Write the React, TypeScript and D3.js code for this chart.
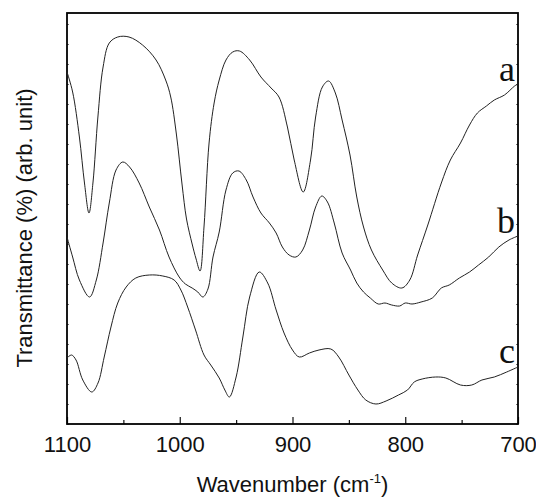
import React, { useRef, useEffect } from "react"
import * as d3 from "d3"

const chart_width = 536
const chart_height = 498
const margin = { top: 13, right: 18, bottom: 74, left: 67 }

// wavenumber (cm-1), transmittance (arb. unit)
const curveA = [
  [1100, 352], [1095, 332], [1089, 287], [1084.5, 241], [1080.5, 211], [1077, 241],
  [1072.6, 307], [1068, 357], [1062.5, 381], [1055, 387], [1045, 387], [1033, 379],
  [1021, 364], [1012.5, 344], [1008, 327], [1003, 290], [998, 240], [994, 205],
  [989, 180], [985.5, 165], [982, 153], [978.5, 197], [974, 281], [969.5, 321],
  [965, 344], [959, 364], [953, 372], [947, 373], [938, 364], [928, 347], [919, 336],
  [912, 327], [904.5, 297], [898.5, 264], [890.5, 232], [884, 264], [879.5, 307],
  [873.5, 337], [868, 343], [862, 331], [856, 304], [849, 269], [843, 227], [837, 197],
  [830, 174], [820, 154], [812, 141], [803, 136], [796, 144], [789, 169], [780, 199],
  [768, 241], [760, 264], [751, 281], [743, 299], [736, 311], [728, 318], [721, 324],
  [712, 329], [703, 338], [700, 340],
]

const curveB = [
  [1100, 187], [1095, 167], [1089, 144], [1080, 127], [1074, 144], [1068, 181],
  [1062.5, 221], [1056.5, 254], [1050.5, 262], [1044.5, 257], [1036, 241], [1027, 217],
  [1018, 194], [1009.5, 167], [1000.5, 147], [995, 140], [989, 136], [984, 132],
  [979.5, 127], [975, 135], [970.5, 167], [965, 192], [959, 234], [953, 251],
  [947.5, 253], [941, 244], [935, 227], [928, 211], [920.5, 201], [914.5, 191],
  [909, 177], [903, 169], [897, 167], [891, 174], [885, 194], [879.5, 217], [874, 228],
  [869, 222], [863, 201], [856, 171], [848.5, 154], [843, 141], [837, 132], [831, 126],
  [824, 120], [818, 121], [812, 119], [805, 118], [800, 121], [794, 120], [786, 122],
  [776, 126], [768, 136], [761, 139], [752, 146], [743, 152], [735, 159], [726, 167],
  [717, 177], [708, 184], [700, 188],
]

const curveC = [
  [1100, 66], [1096, 69], [1092, 64], [1086, 44], [1078, 32], [1072.5, 41], [1067, 67],
  [1061, 97], [1055, 121], [1047.5, 137], [1039, 146], [1027, 149], [1015, 148],
  [1005, 144], [999, 134], [993, 117], [986, 94], [978.5, 69], [972.5, 59], [965, 46],
  [960, 34], [956, 27], [950, 47], [944, 87], [938, 127], [929.5, 152], [922, 141],
  [914.5, 114], [907.5, 91], [900, 74], [894, 67], [885, 71], [876.5, 74], [866, 75],
  [859, 67], [850, 49], [842, 34], [835, 24], [826, 20], [817, 23], [806, 29], [798, 34],
  [792, 42], [785, 45], [773, 47], [764, 46], [751, 39], [741, 39], [732, 44], [721, 47],
  [710, 52], [700, 57],
]

const series = [curveA, curveB, curveC]
const seriesLabels = ["a", "b", "c"]
const labelValues = [343, 191, 61]

const xMajorTicks = [1100, 1000, 900, 800, 700]
const xMinorTicks = [1050, 950, 850, 750]
const yMinorTicks = d3.range(0, 412, 20)

const App = () => {
  const d3Container = useRef(null)

  useEffect(() => {
    if (!d3Container.current) return
    const svg = d3.select(d3Container.current)
    svg.selectAll("*").remove()

    const x_scale = d3
      .scaleLinear()
      .domain([1100, 700])
      .range([margin.left, chart_width - margin.right])

    const y_scale = d3
      .scaleLinear()
      .domain([0, 411])
      .range([chart_height - margin.bottom, margin.top])

    const bottom = chart_height - margin.bottom

    // bottom axis, ticks pointing inward
    const xAxis = d3
      .axisBottom(x_scale)
      .tickValues(xMajorTicks)
      .tickSizeInner(-7)
      .tickSizeOuter(0)
      .tickPadding(12)
      .tickFormat(d3.format("d"))

    const gx = svg
      .append("g")
      .attr("transform", "translate(0," + bottom + ")")
      .call(xAxis)
    gx.select(".domain").remove()
    gx.selectAll(".tick line").attr("stroke", "#111").attr("stroke-width", 1.2)
    gx.selectAll(".tick text")
      .attr("font-family", "Liberation Sans, Arial, sans-serif")
      .attr("font-size", 22)
      .attr("fill", "#111")

    const gxMinor = svg
      .append("g")
      .attr("transform", "translate(0," + bottom + ")")
      .call(d3.axisBottom(x_scale).tickValues(xMinorTicks).tickSize(-4).tickFormat(() => ""))
    gxMinor.select(".domain").remove()
    gxMinor.selectAll(".tick line").attr("stroke", "#111").attr("stroke-width", 1.2)

    // tiny ticks on left and right sides
    const gyl = svg
      .append("g")
      .attr("transform", "translate(" + margin.left + ",0)")
      .call(d3.axisLeft(y_scale).tickValues(yMinorTicks).tickSize(-2).tickFormat(() => ""))
    gyl.select(".domain").remove()
    gyl.selectAll(".tick line").attr("stroke", "#777")

    const gyr = svg
      .append("g")
      .attr("transform", "translate(" + (chart_width - margin.right) + ",0)")
      .call(d3.axisRight(y_scale).tickValues(yMinorTicks).tickSize(-2).tickFormat(() => ""))
    gyr.select(".domain").remove()
    gyr.selectAll(".tick line").attr("stroke", "#777")

    // frame
    svg
      .append("rect")
      .attr("x", margin.left)
      .attr("y", margin.top)
      .attr("width", chart_width - margin.left - margin.right)
      .attr("height", chart_height - margin.top - margin.bottom)
      .attr("fill", "none")
      .attr("stroke", "#000")
      .attr("stroke-width", 1.8)

    const line = d3
      .line()
      .x(d => x_scale(d[0]))
      .y(d => y_scale(d[1]))
      .curve(d3.curveCatmullRom.alpha(0.5))

    svg
      .selectAll("path.spectrum")
      .data(series)
      .enter()
      .append("path")
      .attr("class", "spectrum")
      .attr("d", d => line(d))
      .attr("fill", "none")
      .attr("stroke", "#222")
      .attr("stroke-width", 1)

    svg
      .selectAll("text.curve-label")
      .data(seriesLabels)
      .enter()
      .append("text")
      .attr("class", "curve-label")
      .attr("x", chart_width - margin.right - 3)
      .attr("y", (d, i) => y_scale(labelValues[i]))
      .attr("text-anchor", "end")
      .attr("font-family", "Liberation Serif, Times New Roman, serif")
      .attr("font-size", 36)
      .attr("fill", "#111")
      .text(d => d)

    // axis titles
    const xt = svg
      .append("text")
      .attr("x", (margin.left + chart_width - margin.right) / 2)
      .attr("y", 492)
      .attr("text-anchor", "middle")
      .attr("font-family", "Liberation Sans, Arial, sans-serif")
      .attr("font-size", 22)
      .attr("fill", "#111")
    xt.append("tspan").text("Wavenumber (cm")
    xt.append("tspan").attr("font-size", 13).attr("dy", -9).text("-1")
    xt.append("tspan").attr("dy", 9).text(")")

    svg
      .append("text")
      .attr("transform", "translate(32,228) rotate(-90)")
      .attr("text-anchor", "middle")
      .attr("font-family", "Liberation Sans, Arial, sans-serif")
      .attr("font-size", 22)
      .attr("fill", "#111")
      .text("Transmittance (%) (arb. unit)")
  }, [])

  return (
    <svg
      ref={d3Container}
      width={chart_width}
      height={chart_height}
      style={{ position: "absolute", left: 0, top: 0, background: "#fff" }}
    />
  )
}

export default App
